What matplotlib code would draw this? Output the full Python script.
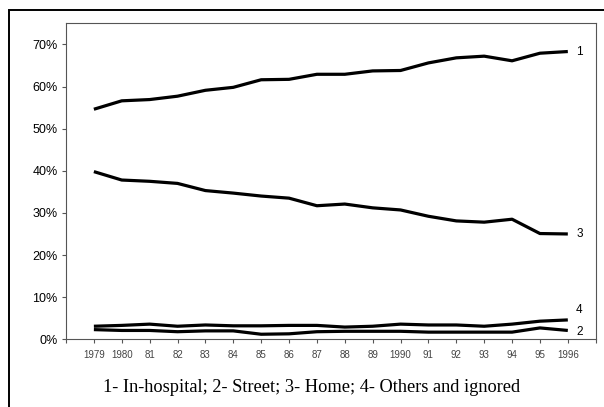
import matplotlib
matplotlib.use("Agg")
import matplotlib.pyplot as plt
from matplotlib.patches import Rectangle
from matplotlib.ticker import FuncFormatter

years = list(range(1979, 1997))
year_labels = ["1979", "1980", "81", "82", "83", "84", "85", "86", "87", "88",
               "89", "1990", "91", "92", "93", "94", "95", "1996"]

# percent of deaths by place of occurrence
in_hospital = [54.6, 56.6, 56.9, 57.7, 59.1, 59.8, 61.6, 61.7, 62.9, 62.9,
               63.7, 63.8, 65.6, 66.8, 67.2, 66.1, 67.9, 68.3]
street = [2.3, 2.1, 2.1, 1.8, 2.0, 2.0, 1.2, 1.3, 1.8, 1.9,
          1.9, 1.9, 1.7, 1.7, 1.7, 1.7, 2.7, 2.1]
home = [39.8, 37.8, 37.5, 37.0, 35.3, 34.7, 34.0, 33.5, 31.7, 32.1,
        31.2, 30.7, 29.2, 28.1, 27.8, 28.5, 25.1, 25.0]
others = [3.1, 3.3, 3.6, 3.1, 3.4, 3.2, 3.2, 3.3, 3.3, 2.9,
          3.1, 3.6, 3.4, 3.4, 3.1, 3.6, 4.3, 4.6]

series = [("1", in_hospital, 0), ("2", street, -1), ("3", home, 0), ("4", others, 7)]

caption = "1- In-hospital; 2- Street; 3- Home; 4- Others and ignored"

fig = plt.figure(figsize=(6.04, 4.07), dpi=100)
fig.patch.set_facecolor("white")

# outer frame (cut off at right and bottom)
fig.patches.append(Rectangle((9 / 604, -0.05), 1.2, (407 - 10) / 407 + 0.05,
                             transform=fig.transFigure, fill=False,
                             edgecolor="black", linewidth=1.4))

ax = fig.add_axes([66 / 604, (407 - 339.3) / 407, (595.7 - 66) / 604, (339.3 - 23.3) / 407])

for name, vals, dy in series:
    ax.plot(years, vals, color="black", linewidth=2.3, solid_capstyle="butt")
    ax.annotate(name, (years[-1], vals[-1]), xytext=(6, dy), textcoords="offset points",
                va="center", ha="left", fontsize=8.5, family="Liberation Sans")

ax.set_xlim(1978, 1997)
ax.set_ylim(0, 75)
ax.set_xticks(range(1978, 1998))
ax.set_xticklabels([""] + year_labels + [""])
ax.set_yticks(range(0, 71, 10))
ax.yaxis.set_major_formatter(FuncFormatter(lambda v, p: f"{v:.0f}%"))

for lbl in ax.get_xticklabels():
    lbl.set_fontsize(7)
    lbl.set_color("#444444")
    lbl.set_family("Liberation Sans")
for lbl in ax.get_yticklabels():
    lbl.set_fontsize(9)
    lbl.set_family("Liberation Sans")

ax.tick_params(axis="both", direction="out", length=3, width=0.8, color="#555555")
ax.tick_params(axis="x", pad=5)
ax.tick_params(axis="y", pad=3)
for sp in ax.spines.values():
    sp.set_color("#555555")
    sp.set_linewidth(0.8)

fig.text(312 / 604, 1 - 388 / 407, caption, ha="center", va="center",
         fontsize=13.2, family="Liberation Serif")

fig.savefig("out.png", dpi=100)
